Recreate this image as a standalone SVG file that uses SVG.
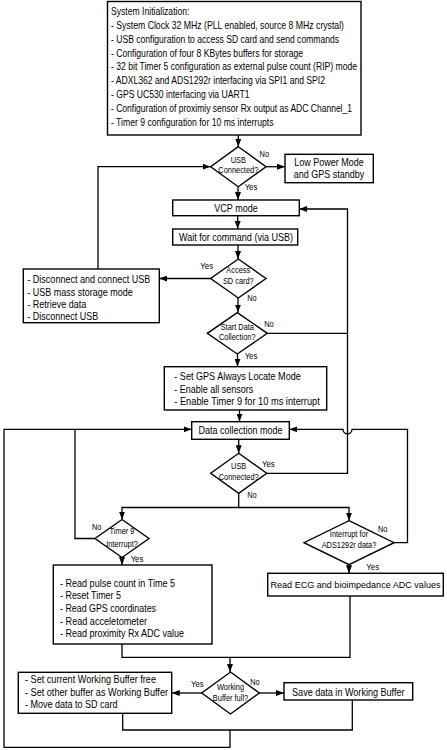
<svg xmlns="http://www.w3.org/2000/svg" width="447" height="750" viewBox="0 0 447 750">
<style>
.box{fill:#fff;stroke:#000;stroke-width:1.4}
.t{font-family:"Liberation Sans",Arial,sans-serif;font-size:11px;fill:#000}
.tt{font-family:"Liberation Sans",Arial,sans-serif;font-size:10.5px;fill:#000}
.d{font-family:"Liberation Sans",Arial,sans-serif;font-size:9px;fill:#000;text-anchor:middle}
.c{text-anchor:middle}
.ln{fill:none;stroke:#000;stroke-width:1.3}
.a{marker-end:url(#arr)}
</style>
<defs>
<marker id="arr" markerUnits="userSpaceOnUse" markerWidth="8" markerHeight="6" refX="8" refY="3" orient="auto">
<path d="M0,0 L8,3 L0,6 z" fill="#000"/>
</marker>
</defs>
<rect width="447" height="750" fill="#fff"/>

<g id="connectors">
<path class="ln a" d="M238.3,135 V146.7"/>
<path class="ln a" d="M266,166.7 H285"/>
<path class="ln a" d="M238,186.7 V200"/>
<path class="ln a" d="M237.7,215.7 V229"/>
<path class="ln a" d="M238,245 V259"/>
<path class="ln a" d="M210.6,278.5 H159.3"/>
<path class="ln a" d="M98,269 V166.7 H210.6"/>
<path class="ln a" d="M238,298 V312.6"/>
<path class="ln" d="M267.3,333.3 H347.5"/>
<path class="ln a" d="M237.5,354 V366.7"/>
<path class="ln a" d="M239.5,410 V421.7"/>
<path class="ln a" d="M238.7,439.3 V453.3"/>
<path class="ln a" d="M266.7,473.3 H347.5 V209 H299.3"/>
<path class="ln a" d="M238.7,493.3 V507.5 H122 V519.5"/>
<path class="ln a" d="M238.7,507.5 H349 V520.7"/>
<path class="ln" d="M95,538.5 H75 V429.3"/>
<path class="ln a" d="M394,542.7 H407.5 V429.3 H352 A4.5,4.5 0 0 1 343,429.3 H289.3"/>
<path class="ln a" d="M122,557.5 V565"/>
<path class="ln a" d="M349,564.7 V573.3"/>
<path class="ln" d="M122,644 V657.3 H350 V596"/>
<path class="ln a" d="M230,657.3 V672"/>
<path class="ln a" d="M201.7,693 H171.7"/>
<path class="ln a" d="M259.3,693 H284"/>
<path class="ln" d="M122.7,713.3 V730 H352.3 V700"/>
<path class="ln a" d="M230,730 V747.3 H4 V429.3 H191.7"/>
</g>

<g id="init">
<rect class="box" x="107.5" y="1.5" width="253.5" height="133.5"/>
<text class="tt" x="111" y="14.5" textLength="78.4" lengthAdjust="spacingAndGlyphs">System Initialization:</text>
<text class="tt" x="111" y="28.5" textLength="233" lengthAdjust="spacingAndGlyphs">- System Clock 32 MHz (PLL enabled, source 8 MHz crystal)</text>
<text class="tt" x="111" y="42.5" textLength="228" lengthAdjust="spacingAndGlyphs">- USB configuration to access SD card and send commands</text>
<text class="tt" x="111" y="56.5" textLength="192" lengthAdjust="spacingAndGlyphs">- Configuration of four 8 KBytes buffers for storage</text>
<text class="tt" x="111" y="70.3" textLength="246" lengthAdjust="spacingAndGlyphs">- 32 bit Timer 5 configuration as external pulse count (RIP) mode</text>
<text class="tt" x="111" y="84" textLength="214" lengthAdjust="spacingAndGlyphs">- ADXL362 and ADS1292r interfacing via SPI1 and SPI2</text>
<text class="tt" x="111" y="98" textLength="138.6" lengthAdjust="spacingAndGlyphs">- GPS UC530 interfacing via UART1</text>
<text class="tt" x="111" y="112" textLength="241" lengthAdjust="spacingAndGlyphs">- Configuration of proximiy sensor Rx output as ADC Channel_1</text>
<text class="tt" x="111" y="126" textLength="162.5" lengthAdjust="spacingAndGlyphs">- Timer 9 configuration for 10 ms interrupts</text>
</g>

<g id="usb1">
<polygon class="box" points="238.3,146.7 266,166.7 238.3,186.7 210.6,166.7"/>
<text class="d" x="238.3" y="162.5" textLength="15.2" lengthAdjust="spacingAndGlyphs">USB</text>
<text class="d" x="238.3" y="172.5" textLength="40" lengthAdjust="spacingAndGlyphs">Connected?</text>
<text class="d" x="264.3" y="157" textLength="9.5" lengthAdjust="spacingAndGlyphs">No</text>
<text class="d" x="251" y="190" textLength="12.7" lengthAdjust="spacingAndGlyphs">Yes</text>
</g>

<g id="lowpower">
<rect class="box" x="285" y="154.3" width="88.3" height="28.4"/>
<text class="t c" x="329" y="166.3" textLength="69.5" lengthAdjust="spacingAndGlyphs">Low Power Mode</text>
<text class="t c" x="329" y="178.3" textLength="70.5" lengthAdjust="spacingAndGlyphs">and GPS standby</text>
</g>

<g id="vcp">
<rect class="box" x="172.7" y="200" width="126.6" height="15.7"/>
<text class="t c" x="236" y="211.5" textLength="43.5" lengthAdjust="spacingAndGlyphs">VCP mode</text>
</g>

<g id="wait">
<rect class="box" x="172.7" y="229" width="125" height="16"/>
<text class="t c" x="236" y="240.8" textLength="114" lengthAdjust="spacingAndGlyphs">Wait for command (via USB)</text>
</g>

<g id="access">
<polygon class="box" points="238.3,259 266,278.5 238.3,298 210.6,278.5"/>
<text class="d" x="238.3" y="273" textLength="23.9" lengthAdjust="spacingAndGlyphs">Access</text>
<text class="d" x="238.3" y="284" textLength="30.8" lengthAdjust="spacingAndGlyphs">SD card?</text>
<text class="d" x="206.7" y="268.5" textLength="12.7" lengthAdjust="spacingAndGlyphs">Yes</text>
<text class="d" x="252" y="301" textLength="9.5" lengthAdjust="spacingAndGlyphs">No</text>
</g>

<g id="massstorage">
<rect class="box" x="23.3" y="269" width="136" height="53.7"/>
<text class="t" x="27.3" y="283" textLength="123" lengthAdjust="spacingAndGlyphs">- Disconnect and connect USB</text>
<text class="t" x="27.3" y="295.7" textLength="105.5" lengthAdjust="spacingAndGlyphs">- USB mass storage mode</text>
<text class="t" x="27.3" y="307.5" textLength="59" lengthAdjust="spacingAndGlyphs">- Retrieve data</text>
<text class="t" x="27.3" y="320" textLength="71" lengthAdjust="spacingAndGlyphs">- Disconnect USB</text>
</g>

<g id="start">
<polygon class="box" points="237.3,312.6 267.3,333.3 237.3,354 207.3,333.3"/>
<text class="d" x="237.3" y="330" textLength="33.3" lengthAdjust="spacingAndGlyphs">Start Data</text>
<text class="d" x="237.3" y="340" textLength="36.6" lengthAdjust="spacingAndGlyphs">Collection?</text>
<text class="d" x="269" y="327.3" textLength="9.5" lengthAdjust="spacingAndGlyphs">No</text>
<text class="d" x="251" y="359" textLength="12.7" lengthAdjust="spacingAndGlyphs">Yes</text>
</g>

<g id="enable">
<rect class="box" x="164.3" y="366.7" width="162.4" height="43.3"/>
<text class="t" x="174.3" y="380" textLength="126.5" lengthAdjust="spacingAndGlyphs">- Set GPS Always Locate Mode</text>
<text class="t" x="174.3" y="392.7" textLength="79" lengthAdjust="spacingAndGlyphs">- Enable all sensors</text>
<text class="t" x="174.3" y="405" textLength="145.5" lengthAdjust="spacingAndGlyphs">- Enable Timer 9 for 10 ms  interrupt</text>
</g>

<g id="datacollection">
<rect class="box" x="191.7" y="421.7" width="97.6" height="17.6"/>
<text class="t c" x="240.5" y="434" textLength="84" lengthAdjust="spacingAndGlyphs">Data collection mode</text>
</g>

<g id="usb2">
<polygon class="box" points="238.7,453.3 266.7,473.3 238.7,493.3 210.7,473.3"/>
<text class="d" x="238.7" y="469" textLength="15.2" lengthAdjust="spacingAndGlyphs">USB</text>
<text class="d" x="238.7" y="480" textLength="40" lengthAdjust="spacingAndGlyphs">Connected?</text>
<text class="d" x="268.3" y="467.3" textLength="12.7" lengthAdjust="spacingAndGlyphs">Yes</text>
<text class="d" x="252" y="498" textLength="9.5" lengthAdjust="spacingAndGlyphs">No</text>
</g>

<g id="timer9">
<polygon class="box" points="122,519.5 149,538.5 122,557.5 95,538.5"/>
<text class="d" x="122" y="534" textLength="25" lengthAdjust="spacingAndGlyphs">Timer 9</text>
<text class="d" x="122" y="546.5" textLength="31.7" lengthAdjust="spacingAndGlyphs">Interrupt?</text>
<text class="d" x="96.7" y="530.3" textLength="9.5" lengthAdjust="spacingAndGlyphs">No</text>
<text class="d" x="137" y="562.3" textLength="12.7" lengthAdjust="spacingAndGlyphs">Yes</text>
</g>

<g id="ads">
<polygon class="box" points="349,520.7 394,542.7 349,564.7 304,542.7"/>
<text class="d" x="349" y="536.5" textLength="38.3" lengthAdjust="spacingAndGlyphs">Interrupt for</text>
<text class="d" x="349" y="548" textLength="54.7" lengthAdjust="spacingAndGlyphs">ADS1292r data?</text>
<text class="d" x="382.7" y="532.3" textLength="9.5" lengthAdjust="spacingAndGlyphs">No</text>
<text class="d" x="372.7" y="570.3" textLength="12.7" lengthAdjust="spacingAndGlyphs">Yes</text>
</g>

<g id="readsensors">
<rect class="box" x="53.3" y="565" width="158.7" height="79"/>
<text class="t" x="60" y="587.3" textLength="115" lengthAdjust="spacingAndGlyphs">- Read pulse count  in Time 5</text>
<text class="t" x="60" y="599" textLength="61" lengthAdjust="spacingAndGlyphs">- Reset Timer 5</text>
<text class="t" x="60" y="612.3" textLength="96" lengthAdjust="spacingAndGlyphs">- Read GPS coordinates</text>
<text class="t" x="60" y="625" textLength="87" lengthAdjust="spacingAndGlyphs">- Read  acceletometer</text>
<text class="t" x="60" y="637.3" textLength="124" lengthAdjust="spacingAndGlyphs">- Read proximity Rx ADC  value</text>
</g>

<g id="readecg">
<rect class="box" x="267.7" y="573.3" width="175.6" height="22.7"/>
<text class="t c" x="355.5" y="588.2" style="font-size:9px" textLength="170" lengthAdjust="spacingAndGlyphs">Read ECG and bioimpedance ADC values</text>
</g>

<g id="wbfull">
<polygon class="box" points="230.5,672 259.3,693 230.5,714 201.7,693"/>
<text class="d" x="230.5" y="690" textLength="27" lengthAdjust="spacingAndGlyphs">Working</text>
<text class="d" x="230.5" y="700.5" textLength="35.4" lengthAdjust="spacingAndGlyphs">Buffer full?</text>
<text class="d" x="197.3" y="687" textLength="12.7" lengthAdjust="spacingAndGlyphs">Yes</text>
<text class="d" x="255" y="684.7" textLength="9.5" lengthAdjust="spacingAndGlyphs">No</text>
</g>

<g id="swapbuffer">
<rect class="box" x="18.3" y="672.3" width="153.4" height="41"/>
<text class="t" x="25" y="683.3" textLength="131" lengthAdjust="spacingAndGlyphs">- Set current Working Buffer free</text>
<text class="t" x="25" y="696.3" style="font-size:10px" textLength="143" lengthAdjust="spacingAndGlyphs">- Set other buffer as Working Buffer</text>
<text class="t" x="25" y="708.3" textLength="92.5" lengthAdjust="spacingAndGlyphs">- Move data to SD card</text>
</g>

<g id="savedata">
<rect class="box" x="284" y="682.7" width="128.7" height="17.3"/>
<text class="t c" x="348.3" y="695.5" textLength="112.5" lengthAdjust="spacingAndGlyphs">Save data in Working Buffer</text>
</g>
</svg>
